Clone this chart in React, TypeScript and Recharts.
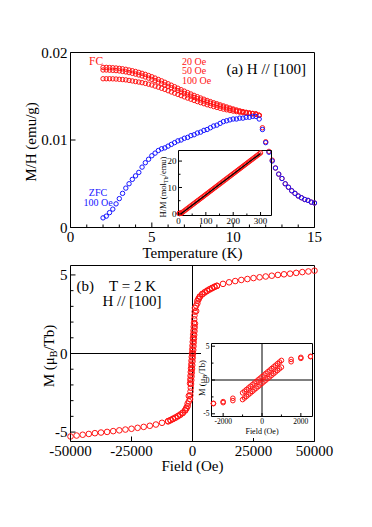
import React from 'react';
import { ScatterChart, Scatter, XAxis, YAxis, ReferenceLine } from 'recharts';

const FONT = "'Liberation Serif', 'Times New Roman', Times, serif";
const RED = '#ff1414';
const BLUE = '#1414ff';

// ---------- Panel (a): M/H vs T ----------
const temps = [2.0, 2.2, 2.4, 2.6, 2.8, 3.0, 3.2, 3.4, 3.6, 3.8, 4.0, 4.2, 4.4, 4.6, 4.8, 5.0, 5.2, 5.4, 5.6, 5.8, 6.0, 6.2, 6.4, 6.6, 6.8, 7.0, 7.2, 7.4, 7.6, 7.8, 8.0, 8.2, 8.4, 8.6, 8.8, 9.0, 9.2, 9.4, 9.6, 9.8, 10.0, 10.2, 10.4, 10.6, 10.8, 11.0, 11.2, 11.4, 11.6];
const fc20 = [0.01830, 0.01830, 0.01828, 0.01826, 0.01823, 0.01819, 0.01814, 0.01808, 0.01800, 0.01792, 0.01783, 0.01773, 0.01762, 0.01750, 0.01737, 0.01723, 0.01708, 0.01692, 0.01676, 0.01660, 0.01643, 0.01626, 0.01609, 0.01592, 0.01575, 0.01558, 0.01542, 0.01526, 0.01510, 0.01495, 0.01480, 0.01466, 0.01452, 0.01439, 0.01426, 0.01414, 0.01402, 0.01390, 0.01378, 0.01366, 0.01355, 0.01344, 0.01334, 0.01325, 0.01317, 0.01310, 0.01304, 0.01298, 0.01283];
const fc50 = [0.01800, 0.01800, 0.01798, 0.01796, 0.01793, 0.01789, 0.01784, 0.01778, 0.01770, 0.01762, 0.01753, 0.01743, 0.01732, 0.01720, 0.01707, 0.01693, 0.01678, 0.01662, 0.01646, 0.01630, 0.01614, 0.01597, 0.01581, 0.01564, 0.01548, 0.01531, 0.01516, 0.01501, 0.01486, 0.01472, 0.01458, 0.01445, 0.01432, 0.01420, 0.01409, 0.01398, 0.01387, 0.01376, 0.01365, 0.01355, 0.01345, 0.01335, 0.01326, 0.01319, 0.01312, 0.01306, 0.01301, 0.01296, 0.01282];
const fc100 = [0.01700, 0.01700, 0.01700, 0.01699, 0.01697, 0.01694, 0.01691, 0.01687, 0.01681, 0.01675, 0.01668, 0.01662, 0.01655, 0.01647, 0.01638, 0.01628, 0.01616, 0.01604, 0.01591, 0.01578, 0.01563, 0.01549, 0.01535, 0.01521, 0.01507, 0.01493, 0.01479, 0.01466, 0.01452, 0.01439, 0.01427, 0.01415, 0.01403, 0.01393, 0.01382, 0.01372, 0.01362, 0.01353, 0.01345, 0.01337, 0.01330, 0.01324, 0.01318, 0.01313, 0.01308, 0.01305, 0.01301, 0.01296, 0.01282];
const zfc100 = [0.0011, 0.0013, 0.0017, 0.0021, 0.0027, 0.0033, 0.0039, 0.0045, 0.0050, 0.0055, 0.0059, 0.0063, 0.0069, 0.0074, 0.0078, 0.0082, 0.0085, 0.0088, 0.0090, 0.0091, 0.0093, 0.0095, 0.0097, 0.0099, 0.0100, 0.0102, 0.0103, 0.0105, 0.0106, 0.0108, 0.0109, 0.0111, 0.0112, 0.0114, 0.0116, 0.0117, 0.0119, 0.0121, 0.0122, 0.0123, 0.0124, 0.0124, 0.0125, 0.0125, 0.0126, 0.0126, 0.0127, 0.0127, 0.0124];
const tailTemps = [11.8, 12.0, 12.2, 12.4, 12.6, 12.8, 13.0, 13.2, 13.4, 13.6, 13.8, 14.0, 14.2, 14.4, 14.6, 14.8, 15.0];
const tailFc = [0.0114, 0.0098, 0.0087, 0.0077, 0.0068, 0.0061, 0.0056, 0.0050, 0.0046, 0.0042, 0.0039, 0.0036, 0.0034, 0.0032, 0.0031, 0.0029, 0.0028];
const tailZfc = [0.0112, 0.0097, 0.0086, 0.0076, 0.0068, 0.0061, 0.0056, 0.0050, 0.0046, 0.0042, 0.0039, 0.0036, 0.0034, 0.0032, 0.0031, 0.0029, 0.0028];
const tempTicks = [0, 1, 2, 3, 4, 5, 6, 7, 8, 9, 10, 11, 12, 13, 14, 15];
const tempMajors = [0, 5, 10, 15];
const mhTicks = [0, 0.01, 0.02];

// ---------- Inset (a): H/M vs T ----------
const cwTemps = [2, 3, 4, 5, 6, 7, 8, 9, 10, 15, 20, 25, 30, 35, 40, 45, 50, 55, 60, 65, 70, 75, 80, 85, 90, 95, 100, 105, 110, 115, 120, 125, 130, 135, 140, 145, 150, 155, 160, 165, 170, 175, 180, 185, 190, 195, 200, 205, 210, 215, 220, 225, 230, 235, 240, 245, 250, 255, 260, 265, 270, 275, 280, 285, 290, 295, 300];
const cwHM = [0.15, 0.17, 0.19, 0.21, 0.22, 0.23, 0.24, 0.25, 0.26, 0.65, 1.04, 1.44, 1.83, 2.22, 2.62, 3.01, 3.41, 3.80, 4.19, 4.59, 4.98, 5.37, 5.77, 6.16, 6.55, 6.95, 7.34, 7.73, 8.13, 8.52, 8.91, 9.31, 9.70, 10.09, 10.49, 10.88, 11.28, 11.67, 12.06, 12.46, 12.85, 13.24, 13.64, 14.03, 14.42, 14.82, 15.21, 15.60, 16.00, 16.39, 16.78, 17.18, 17.57, 17.96, 18.36, 18.75, 19.15, 19.54, 19.93, 20.33, 20.72, 21.11, 21.51, 21.90, 22.29, 22.69, 23.08];
const fitTemps = [8, 300];
const fitHM = [0.0, 22.9];
const cwTTicks = [0, 50, 100, 150, 200, 250, 300];
const cwTMajors = [0, 100, 200, 300];
const cwYTicks = [0, 5, 10, 15, 20];
const cwYMajors = [0, 10, 20];

// ---------- Panel (b): M vs H at 2 K ----------
const fieldDown = [50000, 47500, 45000, 42500, 40000, 37500, 35000, 32500, 30000, 27500, 25000, 22500, 20000, 17500, 15000, 12500, 10000, 9000, 8000, 7000, 6000, 5000, 4000, 3000, 2500, 2000, 1500, 1000, 900, 800, 700, 600, 500, 400, 300, 200, 100, 0, -100, -200, -300, -400, -500, -600, -700, -800, -900, -1000, -1500, -2000, -2500, -3000, -4000, -5000, -6000, -7000, -8000, -9000, -10000, -12500, -15000, -17500, -20000, -22500, -25000, -27500, -30000, -32500, -35000, -37500, -40000, -42500, -45000, -47500, -50000];
const momentDown = [5.27, 5.22, 5.18, 5.13, 5.08, 5.04, 5.00, 4.95, 4.90, 4.85, 4.80, 4.74, 4.68, 4.61, 4.53, 4.43, 4.31, 4.25, 4.17, 4.09, 4.00, 3.90, 3.79, 3.63, 3.50, 3.35, 3.05, 2.90, 2.66, 2.42, 2.18, 1.94, 1.70, 1.46, 1.22, 0.98, 0.74, 0.50, 0.26, 0.02, -0.22, -0.46, -0.70, -0.94, -1.18, -1.42, -1.66, -1.90, -2.70, -3.20, -3.45, -3.60, -3.76, -3.88, -3.98, -4.07, -4.15, -4.23, -4.30, -4.41, -4.52, -4.60, -4.67, -4.73, -4.79, -4.84, -4.89, -4.94, -4.99, -5.03, -5.07, -5.12, -5.17, -5.22, -5.28];
const fieldUp = [-10000, -9000, -8000, -7000, -6000, -5000, -4000, -3000, -2500, -2000, -1500, -1000, -900, -800, -700, -600, -500, -400, -300, -200, -100, 0, 100, 200, 300, 400, 500, 600, 700, 800, 900, 1000, 1500, 2000, 2500, 3000, 4000, 5000, 6000, 7000, 8000, 9000, 10000];
const momentUp = [-4.32, -4.25, -4.17, -4.09, -4.00, -3.90, -3.79, -3.63, -3.50, -3.35, -3.05, -2.90, -2.66, -2.42, -2.18, -1.94, -1.70, -1.46, -1.22, -0.98, -0.74, -0.50, -0.26, -0.02, 0.22, 0.46, 0.70, 0.94, 1.18, 1.42, 1.66, 1.90, 2.70, 3.20, 3.45, 3.60, 3.76, 3.88, 3.98, 4.07, 4.15, 4.23, 4.30];
const fieldTicks = [-50000, -25000, 0, 25000, 50000];
const momentTicks = [-5, -4, -3, -2, -1, 0, 1, 2, 3, 4, 5];
const momentMajors = [-5, 0, 5];

// ---------- Inset (b) ----------
const insetFieldLimit = 2500;
const insetFieldTicks = [-2000, -1000, 0, 1000, 2000];
const insetFieldMajors = [-2000, 0, 2000];
const insetMomentTicks = [-5, -2.5, 0, 2.5, 5];
const insetMomentMajors = [-5, 0, 5];

// ---------- helpers ----------
const pairs = (xs: number[], ys: number[]) => xs.map((x, i) => ({ x, y: ys[i] }));

const ring = (color: string, r: number) => (p: any) => {
  if (p == null || p.cx == null || p.cy == null) return <g />;
  return <circle cx={p.cx} cy={p.cy} r={r} fill="none" stroke={color} strokeWidth={1} />;
};
const noShape = () => <g />;

type Side = 'bottom' | 'top' | 'left' | 'right';
interface TickSpec {
  side: Side;
  majors: number[];
  majorLen: number;
  minorLen: number;
  labels?: boolean;
  fontSize?: number;
  gap?: number;
}

const near = (a: number, b: number) => Math.abs(a - b) < 1e-9 * Math.max(1, Math.abs(a));

function makeTick(s: TickSpec) {
  return (p: any) => {
    const x = Number(p.x);
    const y = Number(p.y);
    const v = p.payload ? Number(p.payload.value) : 0;
    const isMajor = s.majors.some((m) => near(m, v));
    const len = isMajor ? s.majorLen : s.minorLen;
    let x2 = x;
    let y2 = y;
    if (s.side === 'bottom') y2 = y - len;
    if (s.side === 'top') y2 = y + len;
    if (s.side === 'left') x2 = x + len;
    if (s.side === 'right') x2 = x - len;
    let label: any = null;
    if (s.labels && isMajor) {
      const txt = String(v);
      if (s.side === 'bottom') {
        label = (
          <text x={x} y={y + (s.gap || 0)} textAnchor="middle" fontFamily={FONT} fontSize={s.fontSize} fill="#000">
            {txt}
          </text>
        );
      } else if (s.side === 'left') {
        label = (
          <text x={x - (s.gap || 0)} y={y} dy="0.34em" textAnchor="end" fontFamily={FONT} fontSize={s.fontSize} fill="#000">
            {txt}
          </text>
        );
      }
    }
    return (
      <g>
        <line x1={x} y1={y} x2={x2} y2={y2} stroke="#000" strokeWidth={1} />
        {label}
      </g>
    );
  };
}

interface FrameSpec {
  xDomain: [number, number];
  yDomain: [number, number];
  xTicks: number[];
  xMajors: number[];
  yTicks: number[];
  yMajors: number[];
  majorLen: number;
  minorLen: number;
  fontSize: number;
  xGap: number;
  yGap: number;
}

// Axes are 1px thick boxes (0 would not be drawn); margins are reduced by 1 to compensate.
function frameAxes(f: FrameSpec) {
  const common = { type: 'number' as const, interval: 0 as const, tickSize: 0, tickMargin: 0, tickLine: false, axisLine: { stroke: '#000', strokeWidth: 1 } };
  return [
    <XAxis key="xb" xAxisId="b" dataKey="x" domain={f.xDomain} ticks={f.xTicks} orientation="bottom" height={1} {...common}
      tick={makeTick({ side: 'bottom', majors: f.xMajors, majorLen: f.majorLen, minorLen: f.minorLen, labels: true, fontSize: f.fontSize, gap: f.xGap })} />,
    <XAxis key="xt" xAxisId="t" dataKey="x" domain={f.xDomain} ticks={f.xTicks} orientation="top" height={1} {...common}
      tick={makeTick({ side: 'top', majors: f.xMajors, majorLen: f.majorLen, minorLen: f.minorLen })} />,
    <YAxis key="yl" yAxisId="l" dataKey="y" domain={f.yDomain} ticks={f.yTicks} orientation="left" width={1} {...common}
      tick={makeTick({ side: 'left', majors: f.yMajors, majorLen: f.majorLen, minorLen: f.minorLen, labels: true, fontSize: f.fontSize, gap: f.yGap })} />,
    <YAxis key="yr" yAxisId="r" dataKey="y" domain={f.yDomain} ticks={f.yTicks} orientation="right" width={1} {...common}
      tick={makeTick({ side: 'right', majors: f.yMajors, majorLen: f.majorLen, minorLen: f.minorLen })} />,
  ];
}

// plot rectangle -> chart margin (axes occupy 1px each side)
const marginFor = (w: number, h: number, left: number, top: number, right: number, bottom: number) => ({
  left: left - 1,
  top: top - 1,
  right: w - right - 1,
  bottom: h - bottom - 1,
});

const W = 372;
const H = 527;
const layer: React.CSSProperties = { position: 'absolute', left: 0, top: 0 };

export default function App() {
  const fc20Data = pairs(temps, fc20).concat(pairs(tailTemps, tailFc));
  const fc50Data = pairs(temps, fc50);
  const fc100Data = pairs(temps, fc100);
  const zfcData = pairs(temps, zfc100).concat(pairs(tailTemps, tailZfc));
  const cwData = pairs(cwTemps, cwHM);
  const fitData = pairs(fitTemps, fitHM);
  const downData = pairs(fieldDown, momentDown);
  const upData = pairs(fieldUp, momentUp);
  const insetDown = downData.filter((d) => Math.abs(d.x) <= insetFieldLimit);
  const insetUp = upData.filter((d) => Math.abs(d.x) <= insetFieldLimit);

  return (
    <div style={{ position: 'absolute', left: 0, top: 0, width: W, height: H, background: '#fff', overflow: 'hidden' }}>
      {/* Panel (a) main */}
      <div style={layer}>
        <ScatterChart width={W} height={H} margin={marginFor(W, H, 70.5, 52.5, 314.5, 227.5)}>
          {frameAxes({ xDomain: [0, 15], yDomain: [0, 0.02], xTicks: tempTicks, xMajors: tempMajors, yTicks: mhTicks, yMajors: mhTicks, majorLen: 5, minorLen: 3, fontSize: 15, xGap: 14, yGap: 3 })}
          <Scatter xAxisId="b" yAxisId="l" data={fc100Data} shape={ring(RED, 2.2)} isAnimationActive={false} />
          <Scatter xAxisId="b" yAxisId="l" data={fc50Data} shape={ring(RED, 2.2)} isAnimationActive={false} />
          <Scatter xAxisId="b" yAxisId="l" data={fc20Data} shape={ring(RED, 2.2)} isAnimationActive={false} />
          <Scatter xAxisId="b" yAxisId="l" data={zfcData} shape={ring(BLUE, 2.2)} isAnimationActive={false} />
        </ScatterChart>
      </div>

      {/* Inset (a) */}
      <div style={layer}>
        <ScatterChart width={W} height={H} margin={marginFor(W, H, 178.5, 150.5, 271.5, 215.5)}>
          {frameAxes({ xDomain: [0, 340], yDomain: [-0.6, 24], xTicks: cwTTicks, xMajors: cwTMajors, yTicks: cwYTicks, yMajors: cwYMajors, majorLen: 3.5, minorLen: 2, fontSize: 9, xGap: 8, yGap: 2 })}
          <Scatter xAxisId="b" yAxisId="l" data={cwData} shape={ring(RED, 2.2)} isAnimationActive={false} />
          <Scatter xAxisId="b" yAxisId="l" data={fitData} shape={noShape} line={{ stroke: '#000', strokeWidth: 1.2 }} isAnimationActive={false} />
        </ScatterChart>
      </div>

      {/* Panel (b) main */}
      <div style={layer}>
        <ScatterChart width={W} height={H} margin={marginFor(W, H, 70.5, 265.5, 314.5, 441.5)}>
          {frameAxes({ xDomain: [-50000, 50000], yDomain: [-5.6, 5.6], xTicks: fieldTicks, xMajors: fieldTicks, yTicks: momentTicks, yMajors: momentMajors, majorLen: 5, minorLen: 3, fontSize: 15, xGap: 14, yGap: 3 })}
          <ReferenceLine xAxisId="b" yAxisId="l" x={0} stroke="#000" strokeWidth={1} />
          <ReferenceLine xAxisId="b" yAxisId="l" y={0} stroke="#000" strokeWidth={1} />
          <Scatter xAxisId="b" yAxisId="l" data={upData} shape={ring(RED, 2.8)} isAnimationActive={false} />
          <Scatter xAxisId="b" yAxisId="l" data={downData} shape={ring(RED, 2.8)} isAnimationActive={false} />
        </ScatterChart>
      </div>

      {/* Inset (b) with white background */}
      <div style={{ position: 'absolute', left: 201, top: 339, width: 112, height: 99, background: '#fff' }}>
        <ScatterChart width={112} height={99} margin={marginFor(112, 99, 10.5, 4.5, 111.5, 77.5)}>
          {frameAxes({ xDomain: [-2600, 2600], yDomain: [-5.4, 5.4], xTicks: insetFieldTicks, xMajors: insetFieldMajors, yTicks: insetMomentTicks, yMajors: insetMomentMajors, majorLen: 3.5, minorLen: 2, fontSize: 7.5, xGap: 7, yGap: 2 })}
          <ReferenceLine xAxisId="b" yAxisId="l" x={0} stroke="#000" strokeWidth={1} />
          <ReferenceLine xAxisId="b" yAxisId="l" y={0} stroke="#000" strokeWidth={1} />
          <Scatter xAxisId="b" yAxisId="l" data={insetUp} shape={ring(RED, 2.3)} isAnimationActive={false} />
          <Scatter xAxisId="b" yAxisId="l" data={insetDown} shape={ring(RED, 2.3)} isAnimationActive={false} />
        </ScatterChart>
      </div>

      {/* Titles and annotations */}
      <svg width={W} height={H} style={{ position: 'absolute', left: 0, top: 0, pointerEvents: 'none' }} fontFamily={FONT}>
        <text x={192.5} y={257.5} textAnchor="middle" fontSize={15} fill="#000">Temperature (K)</text>
        <text x={36} y={142} transform="rotate(-90 36 142)" textAnchor="middle" fontSize={15} fill="#000">M/H (emu/g)</text>
        <text x={306} y={73.5} textAnchor="end" fontSize={15} fill="#000">(a) H // [100]</text>
        <text x={89} y={64.5} fontSize={11.5} fill={RED}>FC</text>
        <text x={182} y={64.5} fontSize={10} fill={RED}>20 Oe</text>
        <text x={182} y={74} fontSize={10} fill={RED}>50 Oe</text>
        <text x={182} y={83.5} fontSize={10} fill={RED}>100 Oe</text>
        <text x={98} y={195.5} textAnchor="middle" fontSize={10} fill={BLUE}>ZFC</text>
        <text x={98} y={206} textAnchor="middle" fontSize={10} fill={BLUE}>100 Oe</text>
        <text x={165.5} y={187} transform="rotate(-90 165.5 187)" textAnchor="middle" fontSize={8.5} fill="#000">
          H/M (mol<tspan fontSize={6} dy={2}>Tb</tspan><tspan dy={-2}>/emu)</tspan>
        </text>

        <text x={192.5} y={471} textAnchor="middle" fontSize={15} fill="#000">Field (Oe)</text>
        <text x={54} y={356} transform="rotate(-90 54 356)" textAnchor="middle" fontSize={15} fill="#000">
          M (μ<tspan fontSize={10} dy={3}>B</tspan><tspan dy={-3}>/Tb)</tspan>
        </text>
        <text x={76.5} y={290.5} fontSize={15} fill="#000">(b)</text>
        <text x={132.5} y={290.5} textAnchor="middle" fontSize={15} fill="#000">T = 2 K</text>
        <text x={132} y={305.5} textAnchor="middle" fontSize={15} fill="#000">H // [100]</text>
        <text x={204.5} y={378} transform="rotate(-90 204.5 378)" textAnchor="middle" fontSize={8.5} fill="#000">
          M (μ<tspan fontSize={6} dy={2}>B</tspan><tspan dy={-2}>/Tb)</tspan>
        </text>
        <text x={262} y={433.5} textAnchor="middle" fontSize={8} fill="#000">Field (Oe)</text>
      </svg>
    </div>
  );
}
